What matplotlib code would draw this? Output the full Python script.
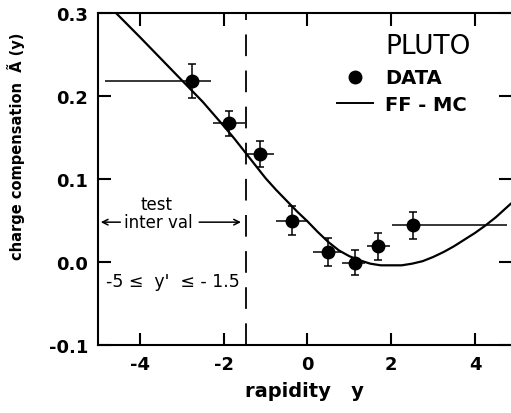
import matplotlib
matplotlib.use("Agg")
import matplotlib.pyplot as plt

# PLUTO data points (rapidity bins)
data_x = [-2.75, -1.88, -1.14, -0.38, 0.48, 1.14, 1.69, 2.52]
data_y = [0.218, 0.167, 0.130, 0.050, 0.012, -0.001, 0.019, 0.044]
bin_lo = [-4.83, -2.26, -1.47, -0.74, 0.14, 0.83, 1.43, 2.02]
bin_hi = [-2.31, -1.48, -0.81, 0.02, 0.79, 1.38, 1.98, 4.76]
data_err = [0.020, 0.015, 0.016, 0.018, 0.017, 0.015, 0.016, 0.016]

# FF-MC curve
mc_x = [-4.57, -4.0, -3.5, -3.0, -2.5, -2.0, -1.75, -1.5, -1.25, -1.0, -0.75,
        -0.5, -0.25, 0.0, 0.25, 0.5, 0.75, 1.0, 1.25, 1.5, 1.75, 2.0, 2.25,
        2.5, 2.75, 3.0, 3.25, 3.5, 3.75, 4.0, 4.25, 4.5, 4.85]
mc_y = [0.300, 0.271, 0.245, 0.219, 0.193, 0.164, 0.149, 0.133, 0.117, 0.101,
        0.087, 0.074, 0.061, 0.049, 0.036, 0.024, 0.014, 0.007, 0.002, -0.002,
        -0.004, -0.004, -0.004, -0.002, 0.001, 0.006, 0.012, 0.019, 0.027,
        0.035, 0.044, 0.054, 0.070]

x_ticks = [-4, -2, 0, 2, 4]
y_ticks = [-0.1, 0.0, 0.1, 0.2, 0.3]
test_edge = -1.47

plt.rcParams['font.family'] = ['DejaVu Sans']

fig = plt.figure(figsize=(5.11, 4.14), dpi=100)
ax = fig.add_axes([98 / 511, 68 / 414, 413 / 511, 332 / 414])

ax.plot(mc_x, mc_y, color='black', lw=1.6)

xerr_lo = [x - lo for x, lo in zip(data_x, bin_lo)]
xerr_hi = [hi - x for x, hi in zip(data_x, bin_hi)]
ax.errorbar(data_x, data_y, xerr=[xerr_lo, xerr_hi], fmt='none',
            ecolor='black', elinewidth=1.1, capsize=0)
ax.errorbar(data_x, data_y, yerr=data_err, fmt='o', color='black',
            ms=9, elinewidth=1.1, capsize=3, capthick=1.1)

ax.axvline(test_edge, color='black', lw=1.3, dashes=(12, 8))

ax.set_xlim(-5, 4.86)
ax.set_ylim(-0.1, 0.3)
ax.set_xticks(x_ticks)
ax.set_xticklabels(['-4', '-2', '0', '2', '4'])
ax.set_yticks(y_ticks)
ax.set_yticklabels(['-0.1', '0.0', '0.1', '0.2', '0.3'])
ax.tick_params(direction='in', length=9, width=1.5, labelsize=13,
               top=True, right=True, pad=7)
for lab in ax.get_xticklabels() + ax.get_yticklabels():
    lab.set_fontweight('bold')
for s in ['left', 'bottom', 'top']:
    ax.spines[s].set_linewidth(1.5)
ax.spines['right'].set_visible(False)

ax.set_xlabel('rapidity   y', fontsize=14, fontweight='bold', labelpad=6)
ax.set_ylabel('charge compensation  Ã (y)', fontsize=10.5, fontweight='bold')
ax.yaxis.set_label_coords(-0.177, 0.6)

# legend drawn by hand
ax.text(0.695, 0.90, 'PLUTO', transform=ax.transAxes, fontsize=19,
        va='center', ha='left')
ax.plot([0.622], [0.807], 'o', color='black', ms=9, transform=ax.transAxes)
ax.text(0.695, 0.807, 'DATA', transform=ax.transAxes, fontsize=14,
        fontweight='bold', va='center', ha='left')
ax.plot([0.579, 0.666], [0.729, 0.729], color='black', lw=1.4,
        transform=ax.transAxes)
ax.text(0.695, 0.723, 'FF - MC', transform=ax.transAxes, fontsize=14,
        fontweight='bold', va='center', ha='left')

# test interval annotation
ax.text(-3.6, 0.070, 'test', fontsize=12, ha='center', va='center')
ax.text(-3.55, 0.048, 'inter val', fontsize=12, ha='center', va='center')
ax.annotate('', xy=(-5, 0.048), xytext=(-4.4, 0.048),
            arrowprops=dict(arrowstyle='->', color='black', lw=1.1))
ax.annotate('', xy=(test_edge - 0.05, 0.048), xytext=(-2.65, 0.048),
            arrowprops=dict(arrowstyle='->', color='black', lw=1.1))
ax.text(-3.22, -0.023, "-5 ≤  y'  ≤ - 1.5", fontsize=12.5,
        ha='center', va='center')

fig.savefig('out.png', dpi=100)
